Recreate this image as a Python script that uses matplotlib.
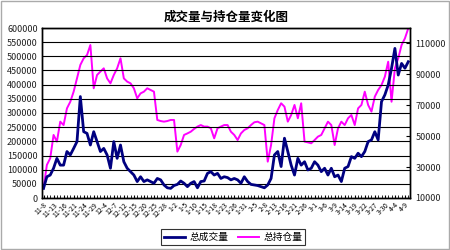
"""
成交量与持仓量变化图 - 双轴折线图
"""
import matplotlib.pyplot as plt
import matplotlib.patches as mpatches
import numpy as np
import pandas as pd

plt.rcParams['font.family'] = ['Noto Sans CJK SC', 'DejaVu Sans']

# 总成交量 (千手)
volume_k = [
    34, 75, 81, 105, 140, 116, 116, 164, 152, 175,
    199, 358, 234, 228, 187, 234, 199, 164, 175, 152,
    105, 199, 140, 187, 128, 105, 93, 81, 58, 75,
    58, 64, 58, 52, 69, 64, 46, 36, 34, 44,
    48, 60, 52, 40, 52, 58, 36, 58, 60, 87,
    93, 81, 87, 69, 75, 72, 64, 69, 64, 52,
    75, 58, 48, 46, 44, 40, 36, 46, 69, 152,
    164, 111, 211, 164, 116, 81, 140, 116, 128, 99,
    105, 128, 116, 93, 105, 81, 105, 75, 81, 58,
    105, 111, 146, 140, 158, 146, 164, 199, 205, 234,
    205, 340, 364, 399, 458, 528, 434, 475, 458, 481,
]

# 总持仓量 (千手)
open_interest_k = [
    16.3, 31.4, 35.7, 50.8, 46.5, 59.4, 57.2, 68.0, 72.3, 78.8,
    87.4, 96.1, 100.4, 102.5, 109.0, 81.0, 89.6, 91.8, 93.9, 87.4,
    84.2, 89.6, 93.9, 100.4, 87.4, 85.3, 84.2, 81.0, 74.5, 77.7,
    78.8, 81.0, 79.9, 78.8, 60.5, 59.8, 59.4, 59.8, 60.5, 60.5,
    40.0, 44.3, 50.8, 51.8, 52.9, 54.7, 56.2, 57.2, 56.2, 56.2,
    55.1, 48.6, 55.1, 56.2, 57.2, 57.2, 52.9, 50.8, 47.5, 51.8,
    54.0, 55.1, 57.2, 59.0, 59.4, 58.3, 57.2, 33.5, 44.3, 61.6,
    66.9, 71.3, 69.1, 59.4, 63.7, 70.2, 61.6, 71.3, 46.5, 46.0,
    45.4, 47.5, 49.7, 50.8, 55.1, 59.4, 57.2, 44.3, 55.1, 59.4,
    57.2, 61.6, 63.7, 57.2, 68.0, 70.2, 78.8, 70.2, 65.9, 75.6,
    79.9, 83.1, 88.5, 98.2, 72.3, 93.9, 100.4, 109.0, 113.3, 119.8,
]

volume = np.array(volume_k) * 1000
open_interest = np.array(open_interest_k) * 1000

# 交易日标签 (每三个交易日一个)
dates = pd.bdate_range('2006-11-08', periods=len(volume))
date_labels = [f"{d.month}-{d.day}" for d in dates]

series_names = ['总成交量', '总持仓量']
title = '成交量与持仓量变化图'

fig = plt.figure(figsize=(4.5, 2.5), dpi=100)
ax = fig.add_axes([0.093, 0.208, 0.818, 0.68])
ax2 = ax.twinx()

x = np.arange(len(volume))
l1, = ax.plot(x, volume, color='#000080', lw=2.0)
l2, = ax2.plot(x, open_interest, color='#FF00FF', lw=1.4)
ax.set_zorder(ax2.get_zorder() + 1)
ax.patch.set_visible(False)

ax.set_xlim(-0.5, len(x) - 0.5)
ax.set_ylim(0, 600000)
ax.set_yticks(np.arange(0, 600001, 50000))
ax.yaxis.grid(True, color='black', lw=0.8)
ax.set_axisbelow(True)
ax.tick_params(axis='y', labelsize=6.5, length=0, pad=3, labelcolor='#222222')

ax2.set_ylim(10000, 120000)
ax2.set_yticks(np.arange(10000, 120001, 20000))
ax2.tick_params(axis='y', labelsize=6.5, length=3, direction='in', pad=4, labelcolor='#222222')

ax.set_xticks(x[::3])
ax.set_xticklabels(date_labels[::3], rotation=45, ha='right', rotation_mode='anchor', fontsize=5)
ax.set_xticks(x, minor=True)
ax.tick_params(axis='x', which='both', direction='in', length=2.5, pad=2)

for a in (ax, ax2):
    for s in a.spines.values():
        s.set_color('black')
        s.set_linewidth(1.0)

fig.text(0.502, 0.93, title, ha='center', va='center', fontsize=9, fontweight='bold')

leg = fig.legend([l1, l2], series_names, loc='center', bbox_to_anchor=(0.518, 0.052),
                 ncol=2, fontsize=7, frameon=True, fancybox=False, borderpad=0.3,
                 handlelength=2.2, columnspacing=1.0, handletextpad=0.4)
leg.get_frame().set_edgecolor('black')
leg.get_frame().set_linewidth(0.8)

fig.patches.append(mpatches.Rectangle((0.002, 0.004), 0.995, 0.992, transform=fig.transFigure,
                                      fill=False, edgecolor='#aaaaaa', lw=1.0))

fig.savefig('out.png', dpi=100)
